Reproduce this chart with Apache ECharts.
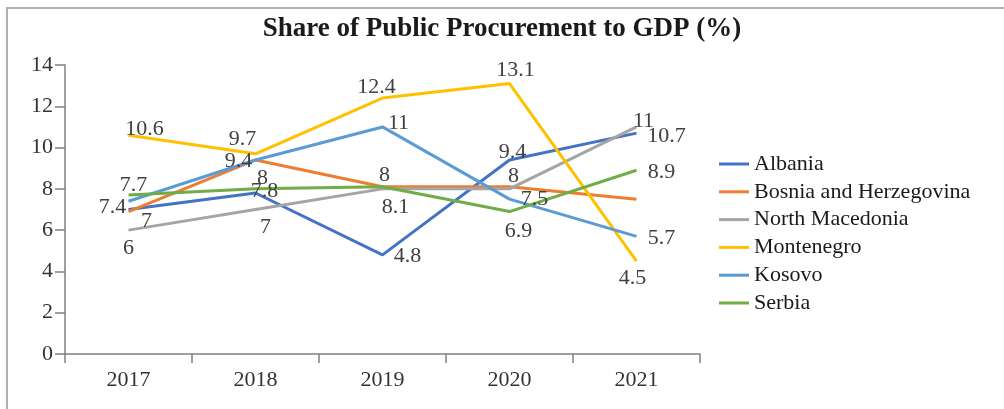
<!DOCTYPE html>
<html>
<head>
<meta charset="utf-8">
<script src="https://cdn.jsdelivr.net/npm/echarts@6/dist/echarts.min.js"></script>
<style>
  html, body { margin: 0; padding: 0; background: #fff; }
  #chart { width: 1004px; height: 409px; }
</style>
</head>
<body>
<div id="chart"></div>
<script>
// Share of public procurement in GDP (%), 2017-2021
const years = ['2017', '2018', '2019', '2020', '2021'];
const countries = ['Albania', 'Bosnia and Herzegovina', 'North Macedonia', 'Montenegro', 'Kosovo', 'Serbia'];

const albania        = [7, 7.8, 4.8, 9.4, 10.7];
const bosnia         = [6.9, 9.4, 8.1, 8.1, 7.5];
const northMacedonia = [6, 7, 8, 8, 11];
const montenegro     = [10.6, 9.7, 12.4, 13.1, 4.5];
const kosovo         = [7.4, 9.4, 11, 7.5, 5.7];
const serbia         = [7.7, 8, 8.1, 6.9, 8.9];

const yTicks = { min: 0, max: 14, interval: 2 };

// series styling
const colors = ['#4472C4', '#ED7D31', '#A5A5A5', '#FFC000', '#5B9BD5', '#70AD47'];
const seriesValues = [albania, bosnia, northMacedonia, montenegro, kosovo, serbia];
const showLabels = [true, false, true, true, true, true];

// label nudges (px) so the value labels sit clear of each other
const labelNudge = [
  [[18, 12], [9, -2], [25, 1], [3, -8], [30, 3]],
  [[0, 0], [0, 0], [0, 0], [0, 0], [0, 0]],
  [[0, 18], [10, 18], [2, -14], [4, -13], [7, -6]],
  [[16, -6], [-13, -15], [-6, -11], [6, -13], [-4, 17]],
  [[-16, 6], [-17, 1], [16, -4], [25, 0], [25, 2]],
  [[5, -10], [7, -11], [13, 20], [9, 20], [25, 2]]
];

const FONT = '"Liberation Serif", "Times New Roman", serif';

const chart = echarts.init(document.getElementById('chart'), null, { renderer: 'canvas' });

const series = countries.map((name, i) => ({
  name: name,
  type: 'line',
  data: seriesValues[i].map((v, j) => ({
    value: v,
    label: { offset: labelNudge[i][j] }
  })),
  showSymbol: true,
  symbol: 'circle',
  symbolSize: 0,
  lineStyle: { color: colors[i], width: 3 },
  itemStyle: { color: colors[i] },
  label: {
    show: showLabels[i],
    position: 'inside',
    fontFamily: FONT,
    fontSize: 22,
    color: '#404040'
  },
  emphasis: { disabled: true },
  animation: false
}));

chart.setOption({
  backgroundColor: '#fff',
  animation: false,
  graphic: [{
    type: 'rect',
    shape: { x: 7, y: 8, width: 1020, height: 430 },
    style: { fill: 'none', stroke: '#b0b0b0', lineWidth: 2 },
    silent: true
  }],
  title: {
    text: 'Share of Public Procurement to GDP (%)',
    left: 'center',
    top: 11,
    textStyle: { fontFamily: FONT, fontSize: 27, fontWeight: 'bold', color: '#1a1a1a' }
  },
  legend: {
    orient: 'vertical',
    left: 714,
    top: 147,
    itemWidth: 30,
    itemHeight: 3,
    itemGap: 3.8,
    icon: 'rect',
    data: countries,
    textStyle: { fontFamily: FONT, fontSize: 22, color: '#1a1a1a', lineHeight: 24 }
  },
  grid: { left: 65, right: 304, top: 65, bottom: 55, containLabel: false },
  xAxis: {
    type: 'category',
    data: years,
    boundaryGap: true,
    axisLine: { lineStyle: { color: '#808080', width: 1.5 } },
    axisTick: { show: true, length: 9, lineStyle: { color: '#808080', width: 1.5 } },
    axisLabel: { fontFamily: FONT, fontSize: 22, color: '#333', margin: 15 },
    splitLine: { show: false }
  },
  yAxis: {
    type: 'value',
    min: yTicks.min,
    max: yTicks.max,
    interval: yTicks.interval,
    axisLine: { show: true, lineStyle: { color: '#808080', width: 1.5 } },
    axisTick: { show: true, length: 10, lineStyle: { color: '#808080', width: 1.5 } },
    axisLabel: { fontFamily: FONT, fontSize: 22, color: '#333', margin: 12 },
    splitLine: { show: false }
  },
  series: series
});
</script>
</body>
</html>
